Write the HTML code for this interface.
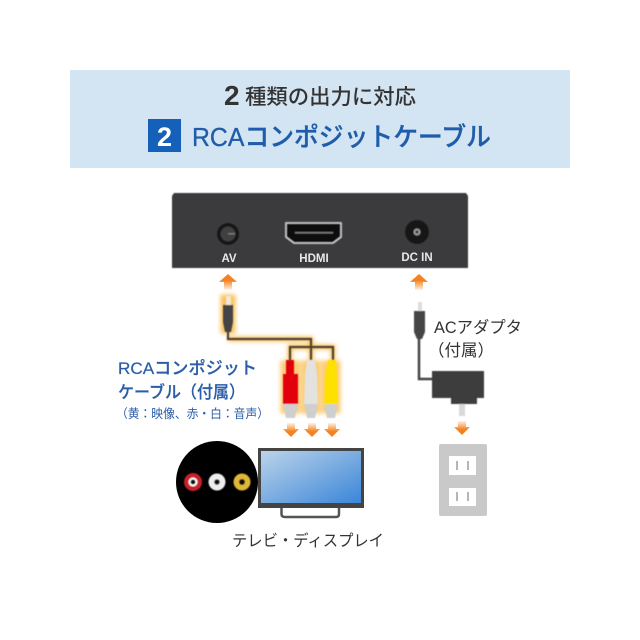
<!DOCTYPE html>
<html lang="ja">
<head>
<meta charset="utf-8">
<title>RCAコンポジットケーブル</title>
<style>
html,body{margin:0;padding:0;background:#fff;width:640px;height:640px;overflow:hidden}
svg{display:block}
text{font-family:"Liberation Sans","Noto Sans CJK JP",sans-serif}
</style>
</head>
<body>
<svg width="640" height="640" viewBox="0 0 640 640" xmlns="http://www.w3.org/2000/svg">
<defs>
<linearGradient id="up" x1="0" y1="1" x2="0" y2="0"><stop offset="0" stop-color="#f58220" stop-opacity="0.1"/><stop offset="0.6" stop-color="#f58220"/></linearGradient>
<linearGradient id="down" x1="0" y1="0" x2="0" y2="1"><stop offset="0" stop-color="#f58220" stop-opacity="0.1"/><stop offset="0.6" stop-color="#f58220"/></linearGradient>
<linearGradient id="tv" x1="0" y1="0" x2="1" y2="1"><stop offset="0" stop-color="#bcd3ea"/><stop offset="1" stop-color="#3a86d8"/></linearGradient>
<filter id="glow" x="-30%" y="-30%" width="160%" height="160%"><feGaussianBlur stdDeviation="2"/></filter>
<filter id="soft" x="-10%" y="-10%" width="120%" height="120%"><feGaussianBlur stdDeviation="0.5"/></filter>
<path id="au" d="M0 0 L9 8 L4 8 L4 16 L-4 16 L-4 8 L-9 8 Z" fill="url(#up)"/>
<path id="ad" d="M-4 0 L4 0 L4 6 L8 6 L0 14 L-8 6 L-4 6 Z" fill="url(#down)"/>
</defs>

<rect x="70" y="70" width="500" height="98" fill="#d3e4f2"/>
<text x="224" y="105" font-size="28" font-weight="700" fill="#333">2</text>
<text x="245" y="104" font-size="21" font-weight="500" fill="#333" textLength="171" lengthAdjust="spacingAndGlyphs">種類の出力に対応</text>
<rect x="148" y="119" width="33" height="33" fill="#1560b8"/>
<text x="164.500" y="146" font-size="27" font-weight="700" fill="#fff" text-anchor="middle">2</text>
<text x="192" y="146" font-size="26" font-weight="500" fill="#1f5dab" stroke="#1f5dab" stroke-width="0.3" textLength="299" lengthAdjust="spacingAndGlyphs">RCAコンポジットケーブル</text>

<g filter="url(#soft)">
<path d="M174 193 H466 L468 196 V268 H172 V196 Z" fill="#3a3a3c"/>
<circle cx="228" cy="234" r="11" fill="#161616"/>
<circle cx="228" cy="234" r="7.500" fill="#3f3f3f"/>
<rect x="228" y="233" width="7" height="1.500" fill="#777"/>
<path d="M286 223 H341 V237 L333 243 H294 L286 237 Z" fill="#111" stroke="#cfcfcf" stroke-width="1.500"/>
<rect x="295" y="232" width="38" height="1.500" fill="#777"/>
<circle cx="417" cy="232" r="12" fill="#161616"/>
<circle cx="417" cy="232" r="3.500" fill="#999"/>
<circle cx="417" cy="232" r="1.500" fill="#333"/>
</g>
<text x="229" y="262" font-size="11.500" font-weight="700" fill="#e8e8e8" text-anchor="middle">AV</text>
<text x="314" y="262" font-size="11.500" font-weight="700" fill="#e8e8e8" text-anchor="middle">HDMI</text>
<text x="417" y="261" font-size="11.500" font-weight="700" fill="#e8e8e8" text-anchor="middle">DC IN</text>

<use href="#au" x="228" y="274"/>
<use href="#au" x="419" y="274"/>

<g filter="url(#glow)" stroke="#fbc25a" fill="#fbc25a">
<rect x="222" y="296" width="12" height="36" stroke-width="3"/>
<path d="M228 339 H311 V360 M290 360 V347 H333 V360" fill="none" stroke-width="5"/>
<g stroke-width="3" opacity="0.85">
<rect x="282" y="362" width="17" height="50"/>
<rect x="303" y="362" width="16" height="50"/>
<rect x="323" y="362" width="16" height="50"/>
</g>
</g>

<g filter="url(#soft)">
<rect x="226" y="296" width="5" height="10" fill="#f0e8da"/>
<path d="M223 305 H233 V322 L231 332 H225 L223 322 Z" fill="#444"/>
<path d="M228 331 V339 H311 V360 M290 360 V347 H333 V360" fill="none" stroke="#4d4030" stroke-width="2.200"/>

<path d="M283 403 H298 L295 418 H286 Z" fill="#cfcfcf"/>
<rect x="283" y="374" width="15" height="30" fill="#e2000f"/>
<rect x="286" y="360" width="8" height="15" fill="#e2000f"/>
<path d="M304 403 H318 L315 418 H307 Z" fill="#cfcfcf"/>
<path d="M307 360 H315 L317 374 L318 404 H304 L305 374 Z" fill="#e3e2de"/>
<path d="M324 403 H338 L335 418 H327 Z" fill="#cfcfcf"/>
<path d="M328 360 H336 L337 374 L338 404 H324 L325 374 Z" fill="#ffe100"/>
</g>

<use href="#ad" x="291" y="423"/>
<use href="#ad" x="312" y="423"/>
<use href="#ad" x="332" y="423"/>

<text x="118" y="374" font-size="17" font-weight="500" fill="#2a5ea8" stroke="#2a5ea8" stroke-width="0.2" textLength="139" lengthAdjust="spacingAndGlyphs">RCAコンポジット</text>
<text x="118" y="398" font-size="17" font-weight="500" fill="#2a5ea8" stroke="#2a5ea8" stroke-width="0.2" textLength="127" lengthAdjust="spacingAndGlyphs">ケーブル（付属）</text>
<text x="116" y="418" font-size="12.500" fill="#2a5ea8" textLength="153" lengthAdjust="spacingAndGlyphs">（黄：映像、赤・白：音声）</text>

<circle cx="217" cy="482" r="41" fill="#000"/>
<g filter="url(#soft)">
<circle cx="193" cy="482" r="9" fill="#c6202a"/>
<circle cx="193" cy="482" r="4.500" fill="#fff"/>
<circle cx="193" cy="482" r="2.500" fill="#111"/>
<circle cx="217" cy="482" r="8.500" fill="#eee"/>
<circle cx="217" cy="482" r="2.800" fill="#111"/>
<circle cx="242" cy="482" r="8.500" fill="#e0b63a"/>
<circle cx="242" cy="482" r="3" fill="#111"/>
</g>

<rect x="258" y="448" width="106" height="60" fill="#444"/>
<rect x="261" y="451" width="100" height="52" fill="url(#tv)"/>
<path d="M281.500 508 V514 Q281.500 517 285 517 H336 Q339 517 339 514 V508" fill="none" stroke="#555" stroke-width="2.500"/>

<text x="232" y="546" font-size="16" fill="#333" textLength="152" lengthAdjust="spacingAndGlyphs">テレビ・ディスプレイ</text>

<g filter="url(#soft)">
<rect x="418" y="302" width="4" height="9" fill="#ddd"/>
<path d="M414 311 H425 V332 L422 339 H417 L414 332 Z" fill="#444"/>
<path d="M419 339 V379 H433" fill="none" stroke="#444" stroke-width="2.500"/>
<path d="M432 371 H484 V398 H477 V404 H451 V398 H432 Z" fill="#3c3c3c"/>
<rect x="459" y="404" width="6" height="12" fill="#d9d9d9"/>
</g>
<use href="#ad" x="462" y="421"/>

<text x="434" y="333" font-size="16.500" fill="#333" textLength="88" lengthAdjust="spacingAndGlyphs">ACアダプタ</text>
<text x="428" y="356" font-size="16.500" fill="#333">（付属）</text>

<rect x="439" y="444" width="48" height="72" rx="2" fill="#c9c9c9"/>
<rect x="449" y="456" width="27" height="19" fill="#fff"/>
<rect x="449" y="488" width="27" height="18" fill="#fff"/>
<g fill="#b5b5b5">
<rect x="456" y="461" width="2" height="9"/>
<rect x="467" y="461" width="2" height="9"/>
<rect x="456" y="492" width="2" height="9"/>
<rect x="467" y="492" width="2" height="9"/>
</g>
</svg>
</body>
</html>
